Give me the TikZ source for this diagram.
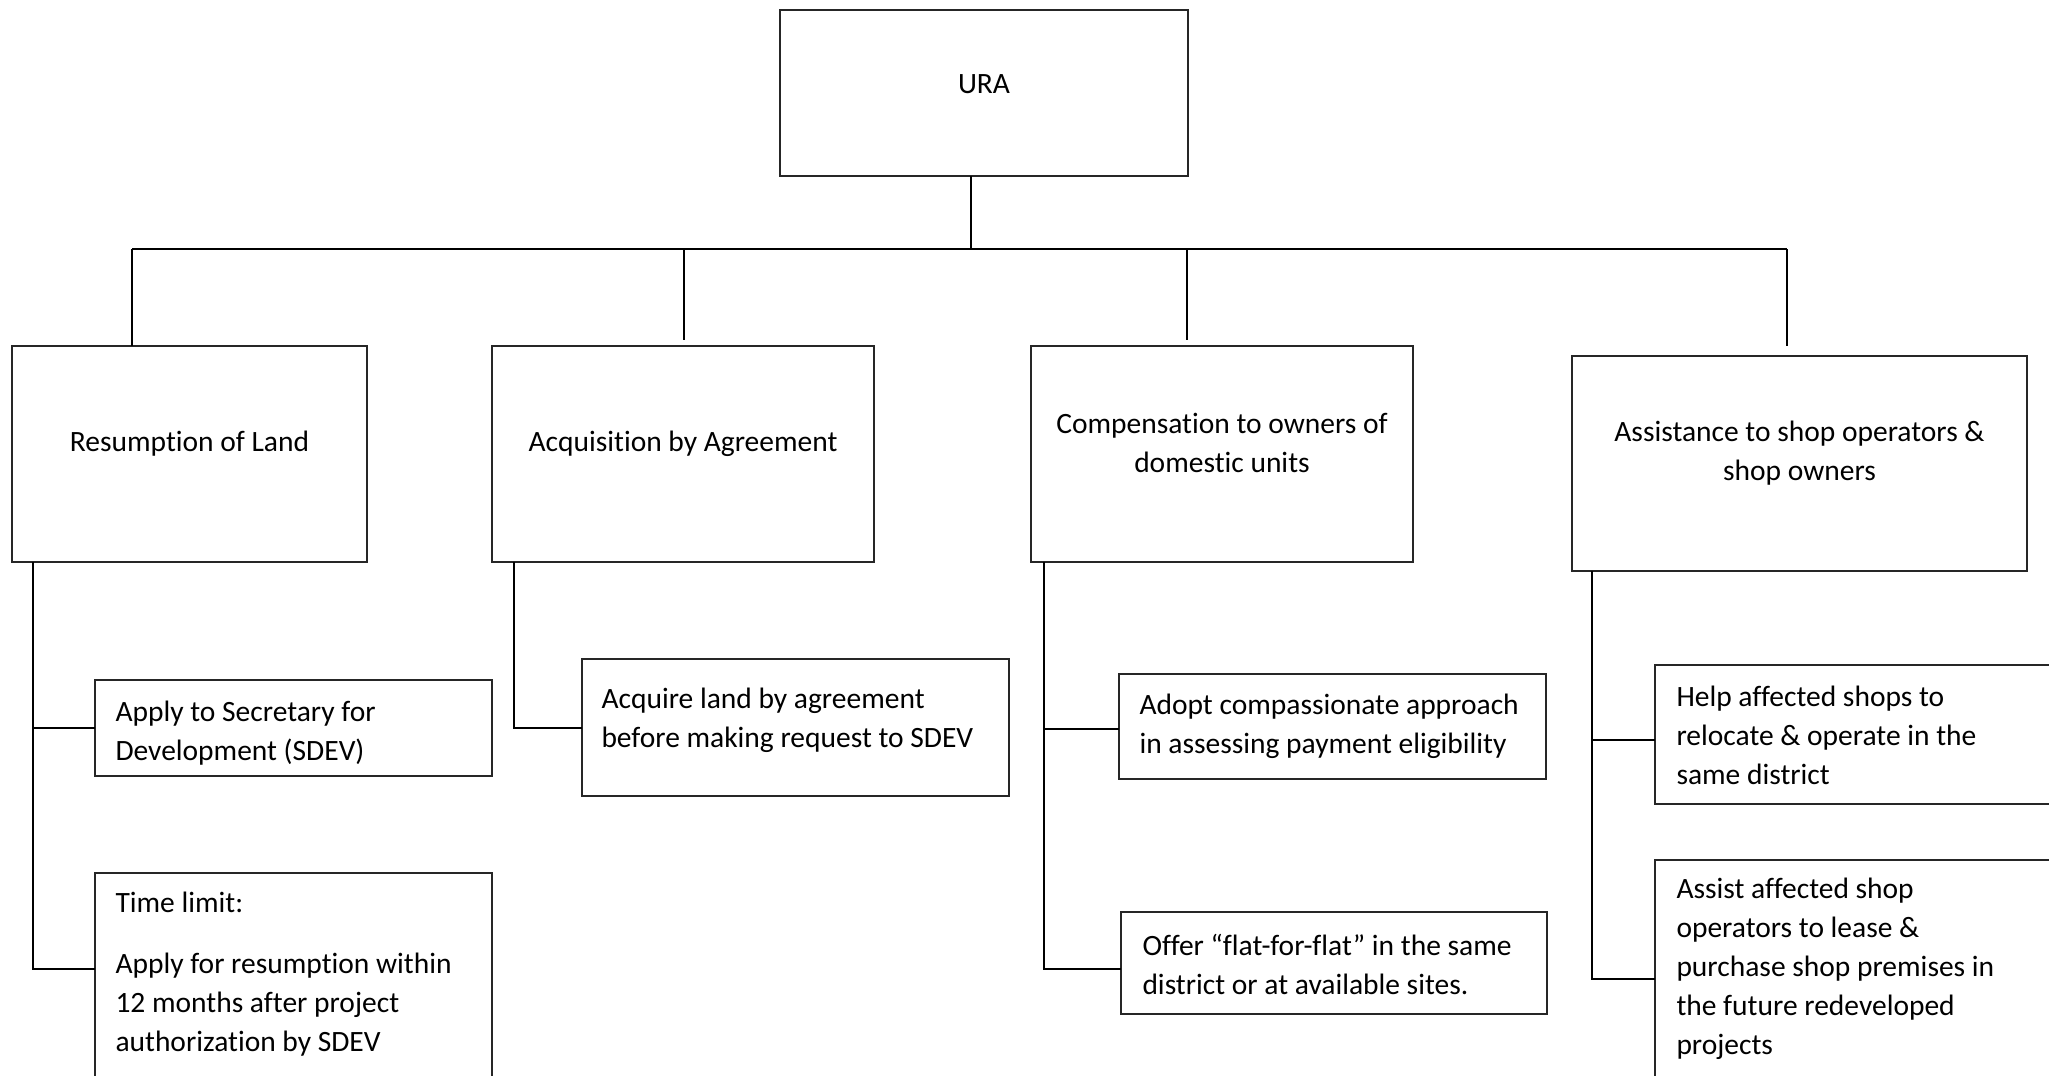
\documentclass[tikz,border=0pt]{standalone}
\usepackage{fontspec}
\setmainfont{Carlito}[Ligatures=CommonOff]
\begin{document}
\begin{tikzpicture}[x=0.4pt,y=-0.4pt,
  box/.style={draw=black!85, line width=0.55pt, inner sep=0pt, outer sep=0pt, anchor=north west, rectangle},
  txt/.style={inner sep=0pt, font=\fontsize{11.8pt}{15.6pt}\selectfont},
  link/.style={draw=black, line width=1.15pt}]
\useasboundingbox (0,0) rectangle (2049,1075);
\clip (0,0) rectangle (2049,1075);
% top
\node[box, minimum width=408*0.4pt, minimum height=166*0.4pt] (ura) at (780,10) {};
\node[txt] (urat) at (984,84) {URA};
% level 1 boxes
\node[box, minimum width=355*0.4pt, minimum height=216*0.4pt] (r1) at (12,346) {};
\node[txt] (r1t) at (189.5,444) {Resumption of Land};
\node[box, minimum width=382*0.4pt, minimum height=216*0.4pt] (r2) at (492,346) {};
\node[txt] (r2t) at (683,444) {Acquisition by Agreement};
\node[box, minimum width=382*0.4pt, minimum height=216*0.4pt] (r3) at (1031,346) {};
\node[txt, align=center] (r3t) at (1222,442.5) {Compensation to owners of\\domestic units};
\node[box, minimum width=455*0.4pt, minimum height=215*0.4pt] (r4) at (1572,356) {};
\node[txt, align=center] (r4t) at (1799.5,453.5) {Assistance to shop operators \&\\shop owners};
% level 2 boxes
\node[box, minimum width=397*0.4pt, minimum height=96*0.4pt] (a1) at (95,680) {};
\node[txt, align=left, anchor=west] (a1t) at (115,733) {Apply to Secretary for\\Development (SDEV)};
\node[box, minimum width=397*0.4pt, minimum height=240*0.4pt] (a2) at (95,873) {};
\node[txt, align=left, anchor=west] (a2t) at (115,974) {Time limit:\\[8.6pt]Apply for resumption within\\12 months after project\\authorization by SDEV};
\node[box, minimum width=427*0.4pt, minimum height=137*0.4pt] (b1) at (582,659) {};
\node[txt, align=left, anchor=west] (b1t) at (601,720.5) {Acquire land by agreement\\before making request to SDEV};
\node[box, minimum width=427*0.4pt, minimum height=105*0.4pt] (c1) at (1119,674) {};
\node[txt, align=left, anchor=west] (c1t) at (1139,726) {Adopt compassionate approach\\in assessing payment eligibility};
\node[box, minimum width=426*0.4pt, minimum height=102*0.4pt] (c2) at (1121,912) {};
\node[txt, align=left, anchor=west] (c2t) at (1142,964) {Offer “flat-for-flat” in the same\\district or at available sites.};
\node[box, minimum width=450*0.4pt, minimum height=139*0.4pt] (d1) at (1655,665) {};
\node[txt, align=left, anchor=west] (d1t) at (1676,735.5) {Help affected shops to\\relocate \& operate in the\\same district};
\node[box, minimum width=450*0.4pt, minimum height=260*0.4pt] (d2) at (1655,860) {};
\node[txt, align=left, anchor=west] (d2t) at (1676,969) {Assist affected shop\\operators to lease \&\\purchase shop premises in\\the future redeveloped\\projects};
% bus
\coordinate (bus) at (971,249);
\coordinate (bL) at (132,249);
\coordinate (bR) at (1787,249);
\coordinate (e2) at (684,340);
\coordinate (e3) at (1187,340);
\coordinate (e4) at (1787,346);
\draw[link] (ura.south -| bus) -- (bus);
\draw[link] (bL) -- (bR);
\draw[link] (bL) -- (bL |- r1.north);
\draw[link] (e2 |- bus) -- (e2);
\draw[link] (e3 |- bus) -- (e3);
\draw[link] (bR) -- (e4);
% stems
\coordinate (s1) at (33,969);
\draw[link] (s1 |- r1.south) -- (s1) -- (s1 -| a2.west);
\draw[link] (s1 |- a1.west) -- (a1.west);
\coordinate (s2) at (514,728);
\draw[link] (s2 |- r2.south) -- (s2) -- (s2 -| b1.west);
\coordinate (s3) at (1044,969);
\coordinate (s3a) at (1044,729);
\draw[link] (s3 |- r3.south) -- (s3) -- (s3 -| c2.west);
\draw[link] (s3a) -- (s3a -| c1.west);
\coordinate (s4) at (1592,979);
\coordinate (s4a) at (1592,740);
\draw[link] (s4 |- r4.south) -- (s4) -- (s4 -| d2.west);
\draw[link] (s4a) -- (s4a -| d1.west);
\end{tikzpicture}
\end{document}
